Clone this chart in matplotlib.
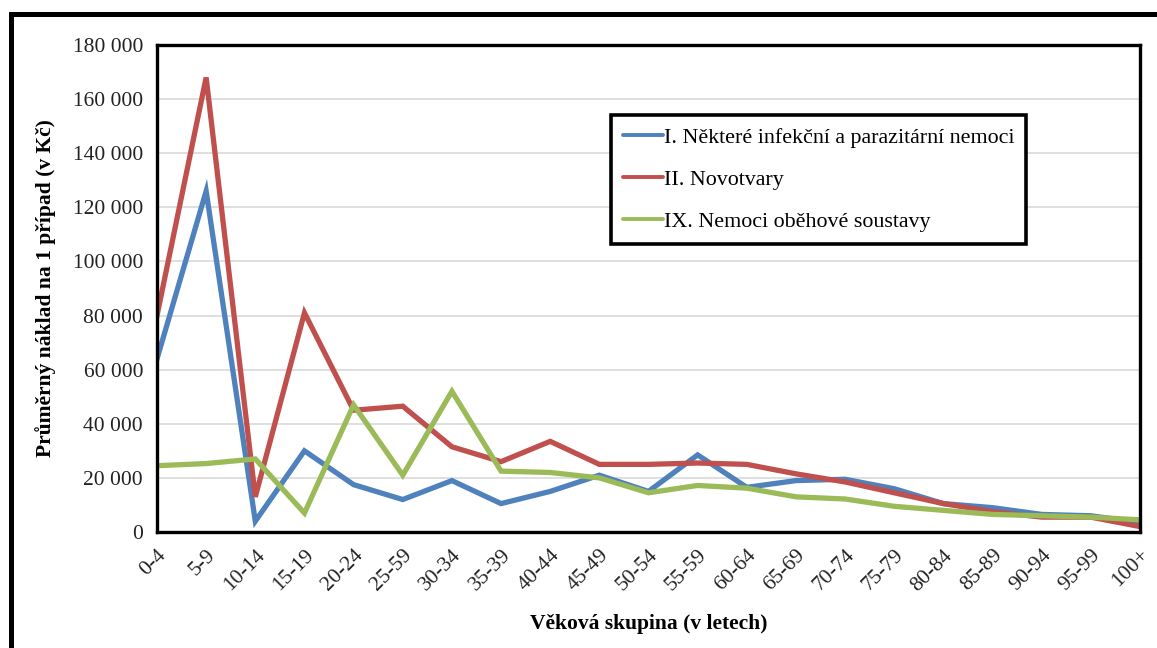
import numpy as np
import matplotlib.pyplot as plt
from matplotlib.patches import Rectangle
from matplotlib.ticker import FuncFormatter

plt.rcParams['font.family'] = ['Liberation Serif', 'DejaVu Serif']

vek = ["0-4", "5-9", "10-14", "15-19", "20-24", "25-59", "30-34", "35-39",
       "40-44", "45-49", "50-54", "55-59", "60-64", "65-69", "70-74", "75-79",
       "80-84", "85-89", "90-94", "95-99", "100+"]

infekcni = [64000, 126000, 4000, 30000, 17500, 12000, 19000, 10500, 15000, 21000,
            15000, 28500, 16500, 19000, 19500, 16000, 10500, 9000, 6500, 6000, 3500]
novotvary = [80000, 168000, 13000, 81000, 45000, 46500, 31500, 26000, 33500, 25000,
             25000, 25500, 25000, 21500, 18500, 14500, 10500, 7500, 5500, 5500, 2000]
obehove = [24500, 25300, 27000, 7000, 47000, 21000, 52000, 22500, 22000, 20000,
           14500, 17200, 16200, 13000, 12200, 9500, 8000, 6500, 6000, 5500, 4500]

nazvy = ["I. Některé infekční a parazitární nemoci",
         "II. Novotvary",
         "IX. Nemoci oběhové soustavy"]
barvy = ["#4F81BD", "#C0504D", "#9BBB59"]

fig = plt.figure(figsize=(11.57, 6.48), dpi=100)
ax = fig.add_axes([0.1357, 0.179, 0.8496, 0.7516])

x = np.arange(len(vek))
for data, nazev, c in zip([infekcni, novotvary, obehove], nazvy, barvy):
    ax.plot(x, data, color=c, lw=3.8, label=nazev, solid_joinstyle='miter')

ax.set_xlim(0, len(vek) - 1)
ax.set_ylim(0, 180000)
ax.set_yticks(np.arange(0, 180001, 20000))
ax.yaxis.set_major_formatter(FuncFormatter(lambda v, p: "{:,.0f}".format(v).replace(",", " ")))
ax.set_xticks(x)
ax.set_xticklabels(vek, rotation=45, ha='right', rotation_mode='anchor')
ax.tick_params(length=0, labelsize=15.5, colors='#222222')
ax.tick_params(axis='y', pad=10)
ax.tick_params(axis='x', pad=10)
ax.grid(axis='y', color='#d9d9d9', lw=1.2)
ax.set_axisbelow(True)
for s in ax.spines.values():
    s.set_linewidth(2.4)
    s.set_color('black')

ax.set_ylabel("Průměrný náklad na 1 případ (v Kč)", fontsize=15.5, fontweight='bold', labelpad=12)
ax.set_xlabel("Věková skupina (v letech)", fontsize=15.5, fontweight='bold', labelpad=14)

leg = ax.legend(loc='upper left', bbox_to_anchor=(0.462, 0.856), fontsize=15.8,
                handlelength=1.8, handletextpad=0.05, labelspacing=1.0,
                borderpad=0.55, borderaxespad=0, fancybox=False, framealpha=1)
leg.get_frame().set_edgecolor('black')
leg.get_frame().set_linewidth(2.6)
for h in leg.get_lines():
    h.set_linewidth(2.8)
    h.set_solid_capstyle('round')

# outer frame around the whole figure
fig.patches.append(Rectangle((0.0095, -0.05), 1.1, 1.029, transform=fig.transFigure,
                             fill=False, edgecolor='black', lw=3.6, clip_on=False))

fig.savefig("out.png", dpi=100)
